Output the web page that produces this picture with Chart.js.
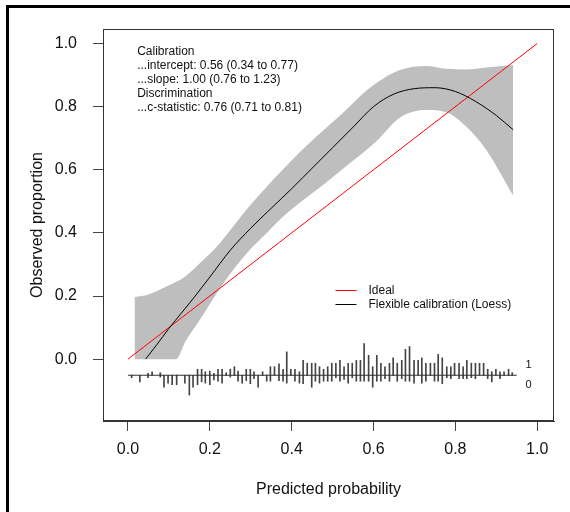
<!DOCTYPE html>
<html>
<head>
<meta charset="utf-8">
<script src="https://cdn.jsdelivr.net/npm/chart.js@4/dist/chart.umd.min.js"></script>
<style>
  body { margin: 0; background: #fff; }
  #wrap { position: relative; width: 570px; height: 512px; }
  #frame { position: absolute; left: 6px; top: 5px; width: 600px; height: 600px;
           border-left: 3px solid #000; border-top: 3px solid #000; }
  canvas { position: absolute; left: 0; top: 0; }
</style>
</head>
<body>
<div id="wrap">
  <div id="frame"></div>
  <canvas id="calPlot" width="570" height="512"></canvas>
</div>
<script>
// axis ticks
const xTicks = [0, 0.2, 0.4, 0.6, 0.8, 1.0];
const yTicks = [0, 0.2, 0.4, 0.6, 0.8, 1.0];

// ideal line
const idealX = [0, 1];
const idealY = [0, 1];

// loess calibration curve
const loessX = [0.043, 0.07, 0.10, 0.13, 0.16, 0.2, 0.25, 0.3, 0.35, 0.4, 0.45, 0.5, 0.55, 0.6, 0.65, 0.7, 0.75, 0.8, 0.85, 0.9, 0.941];
const loessY = [0.0, 0.045, 0.097, 0.145, 0.193, 0.26, 0.345, 0.415, 0.478, 0.54, 0.605, 0.67, 0.735, 0.8, 0.84, 0.857, 0.86, 0.848, 0.816, 0.772, 0.727];

// confidence band
const bandX = [0.016, 0.05, 0.09, 0.118, 0.14, 0.175, 0.216, 0.256, 0.297, 0.338, 0.378, 0.419, 0.46, 0.501, 0.541, 0.582, 0.607, 0.664, 0.729, 0.778, 0.827, 0.876, 0.941];
const bandUpper = [0.197, 0.205, 0.228, 0.245, 0.262, 0.303, 0.355, 0.419, 0.485, 0.545, 0.60, 0.655, 0.705, 0.752, 0.80, 0.85, 0.875, 0.916, 0.929, 0.92, 0.918, 0.924, 0.932];
const bandLower = [0, 0, 0, 0, 0.055, 0.123, 0.207, 0.281, 0.345, 0.398, 0.45, 0.495, 0.535, 0.577, 0.62, 0.662, 0.69, 0.765, 0.789, 0.782, 0.736, 0.662, 0.519];

// spike histogram of predicted probabilities (events up, non-events down)
const spikeBase = -0.051;
const spikeLineX = [0, 0.95];
const spikeX = [0.009, 0.029, 0.049, 0.059, 0.079, 0.088, 0.098, 0.108, 0.119, 0.139, 0.150, 0.159, 0.170, 0.180, 0.189, 0.200, 0.210, 0.220, 0.230, 0.240, 0.250, 0.260, 0.269, 0.279, 0.289, 0.299, 0.308, 0.318, 0.329, 0.339, 0.348, 0.358, 0.369, 0.379, 0.388, 0.398, 0.408, 0.419, 0.428, 0.438, 0.449, 0.458, 0.468, 0.478, 0.488, 0.498, 0.508, 0.518, 0.528, 0.538, 0.548, 0.558, 0.568, 0.577, 0.588, 0.598, 0.608, 0.618, 0.628, 0.639, 0.648, 0.658, 0.669, 0.678, 0.688, 0.699, 0.709, 0.718, 0.728, 0.739, 0.749, 0.758, 0.768, 0.779, 0.789, 0.798, 0.809, 0.819, 0.828, 0.839, 0.849, 0.859, 0.869, 0.879, 0.889, 0.899, 0.909, 0.919, 0.930, 0.939];
const spikeUp = [0, 0, 0.006, 0.011, 0.008, 0, 0, 0, 0, 0, 0, 0, 0.019, 0.019, 0.011, 0.013, 0.006, 0.019, 0.019, 0.008, 0.019, 0.027, 0.013, 0, 0.019, 0.019, 0.011, 0, 0.011, 0, 0.027, 0.027, 0.036, 0.019, 0.074, 0.019, 0.019, 0.011, 0.047, 0.038, 0.038, 0.038, 0.027, 0.019, 0.027, 0.038, 0.038, 0.047, 0.027, 0.038, 0.038, 0.047, 0.047, 0.100, 0.063, 0.027, 0.063, 0.038, 0.027, 0.038, 0.055, 0.038, 0.047, 0.082, 0.091, 0.047, 0.047, 0.055, 0.038, 0.038, 0.038, 0.066, 0.055, 0.027, 0.027, 0.038, 0.038, 0.027, 0.047, 0.038, 0.038, 0.038, 0.038, 0.019, 0.011, 0.019, 0.011, 0.011, 0.019, 0.008];
const spikeDown = [0.008, 0.021, 0.008, 0, 0.006, 0.038, 0.025, 0.030, 0.030, 0.025, 0.063, 0.038, 0.030, 0.021, 0.025, 0.030, 0.015, 0.019, 0.025, 0, 0.006, 0, 0.019, 0.025, 0.017, 0.027, 0.011, 0.038, 0, 0.019, 0.019, 0, 0.017, 0.019, 0.025, 0, 0.019, 0.025, 0.027, 0, 0.038, 0.019, 0.025, 0.019, 0.019, 0.019, 0.008, 0.019, 0.013, 0.025, 0.008, 0.019, 0.019, 0.019, 0.019, 0.038, 0.019, 0.019, 0.011, 0.019, 0, 0.019, 0.011, 0.019, 0.019, 0.025, 0, 0.025, 0.019, 0, 0.019, 0.019, 0.027, 0.008, 0.011, 0, 0.011, 0.011, 0.011, 0.008, 0.011, 0, 0, 0.011, 0.021, 0, 0.011, 0, 0, 0];

// statistics text
const statLines = [
  'Calibration',
  '...intercept: 0.56 (0.34 to 0.77)',
  '...slope: 1.00 (0.76 to 1.23)',
  'Discrimination',
  '...c-statistic: 0.76 (0.71 to 0.81)'
];
const legendLabels = ['Ideal', 'Flexible calibration (Loess)'];
const legendColors = ['#ff0000', '#000000'];

const FONT = 'Liberation Sans, Arial, sans-serif';
Chart.defaults.font.family = FONT;

const pts = (xs, ys) => xs.map((x, i) => ({ x: x, y: ys[i] }));

const overlay = {
  id: 'overlay',
  afterDraw(chart) {
    const { ctx, chartArea: a, scales: { x, y } } = chart;
    ctx.save();
    // plot box
    ctx.strokeStyle = '#333';
    ctx.lineWidth = 1;
    ctx.strokeRect(Math.round(a.left) + 0.5, Math.round(a.top) + 0.5,
      Math.round(a.right - a.left) - 1, Math.round(a.bottom - a.top) - 1);

    // statistics
    ctx.fillStyle = '#111';
    ctx.font = '12px ' + FONT;
    ctx.textBaseline = 'middle';
    ctx.textAlign = 'left';
    const tx = x.getPixelForValue(0.0225);
    const ty = y.getPixelForValue(0.974);
    statLines.forEach((s, i) => ctx.fillText(s, tx, ty + i * 14));

    // legend
    const lx = x.getPixelForValue(0.507);
    const ly = y.getPixelForValue(0.22);
    legendLabels.forEach((s, i) => {
      const yy = Math.round(ly + i * 14.5) + 0.5;
      ctx.strokeStyle = legendColors[i];
      ctx.beginPath();
      ctx.moveTo(lx, yy);
      ctx.lineTo(lx + 21, yy);
      ctx.stroke();
      ctx.fillText(s, lx + 33, yy);
    });

    // spike labels
    ctx.font = '11px ' + FONT;
    ctx.textAlign = 'center';
    ctx.fillText('1', x.getPixelForValue(0.979), y.getPixelForValue(-0.02));
    ctx.fillText('0', x.getPixelForValue(0.979), y.getPixelForValue(-0.081));
    ctx.restore();
  }
};

new Chart(document.getElementById('calPlot'), {
  type: 'line',
  data: {
    datasets: [
      {
        label: 'upper',
        data: pts(bandX, bandUpper),
        borderWidth: 0,
        pointRadius: 0,
        cubicInterpolationMode: 'monotone',
        backgroundColor: '#bebebe',
        fill: '+1',
        order: 10
      },
      {
        label: 'lower',
        data: pts(bandX, bandLower),
        borderWidth: 0,
        pointRadius: 0,
        cubicInterpolationMode: 'monotone',
        fill: false,
        order: 11
      },
      {
        type: 'bar',
        label: 'events',
        data: spikeX.map((v, i) => ({ x: v, y: [spikeBase, spikeBase + spikeUp[i]] })),
        backgroundColor: '#444',
        barThickness: 1,
        grouped: false,
        order: 5
      },
      {
        type: 'bar',
        label: 'nonevents',
        data: spikeX.map((v, i) => ({ x: v, y: [spikeBase - spikeDown[i], spikeBase] })),
        backgroundColor: '#444',
        barThickness: 1,
        grouped: false,
        order: 5
      },
      {
        label: 'base',
        data: pts(spikeLineX, [spikeBase, spikeBase]),
        borderColor: '#333',
        borderWidth: 1,
        pointRadius: 0,
        fill: false,
        order: 4
      },
      {
        label: legendLabels[0],
        data: pts(idealX, idealY),
        borderColor: legendColors[0],
        borderWidth: 1,
        pointRadius: 0,
        fill: false,
        order: 2
      },
      {
        label: legendLabels[1],
        data: pts(loessX, loessY),
        borderColor: legendColors[1],
        borderWidth: 1,
        pointRadius: 0,
        cubicInterpolationMode: 'monotone',
        fill: false,
        order: 1
      }
    ]
  },
  options: {
    responsive: false,
    animation: false,
    layout: { padding: { top: 29, right: 16, left: 0, bottom: 0 } },
    plugins: { legend: { display: false }, tooltip: { enabled: false } },
    scales: {
      x: {
        type: 'linear',
        min: -0.061,
        max: 1.041,
        offset: false,
        afterBuildTicks: s => { s.ticks = xTicks.map(v => ({ value: v })); },
        afterFit: s => { s.height = 91; },
        ticks: { callback: v => v.toFixed(1), font: { size: 16 }, color: '#111', padding: 9, maxRotation: 0, autoSkip: false },
        grid: { offset: false, drawOnChartArea: false, drawTicks: true, tickLength: 10, color: '#444' },
        border: { display: true, color: '#333' },
        title: { display: true, text: 'Predicted probability', font: { size: 16 }, color: '#111', padding: { top: 0, bottom: 13 } }
      },
      y: {
        type: 'linear',
        min: -0.196,
        max: 1.046,
        afterBuildTicks: s => { s.ticks = yTicks.map(v => ({ value: v })); },
        afterFit: s => { s.width = 103; },
        ticks: { callback: v => v.toFixed(1), font: { size: 16 }, color: '#111', padding: 16, autoSkip: false },
        grid: { drawOnChartArea: false, drawTicks: true, tickLength: 10, color: '#444' },
        border: { display: true, color: '#333' },
        title: { display: true, text: 'Observed proportion', font: { size: 16 }, color: '#111', padding: { top: 28, bottom: 0 } }
      }
    }
  },
  plugins: [overlay]
});
</script>
</body>
</html>
